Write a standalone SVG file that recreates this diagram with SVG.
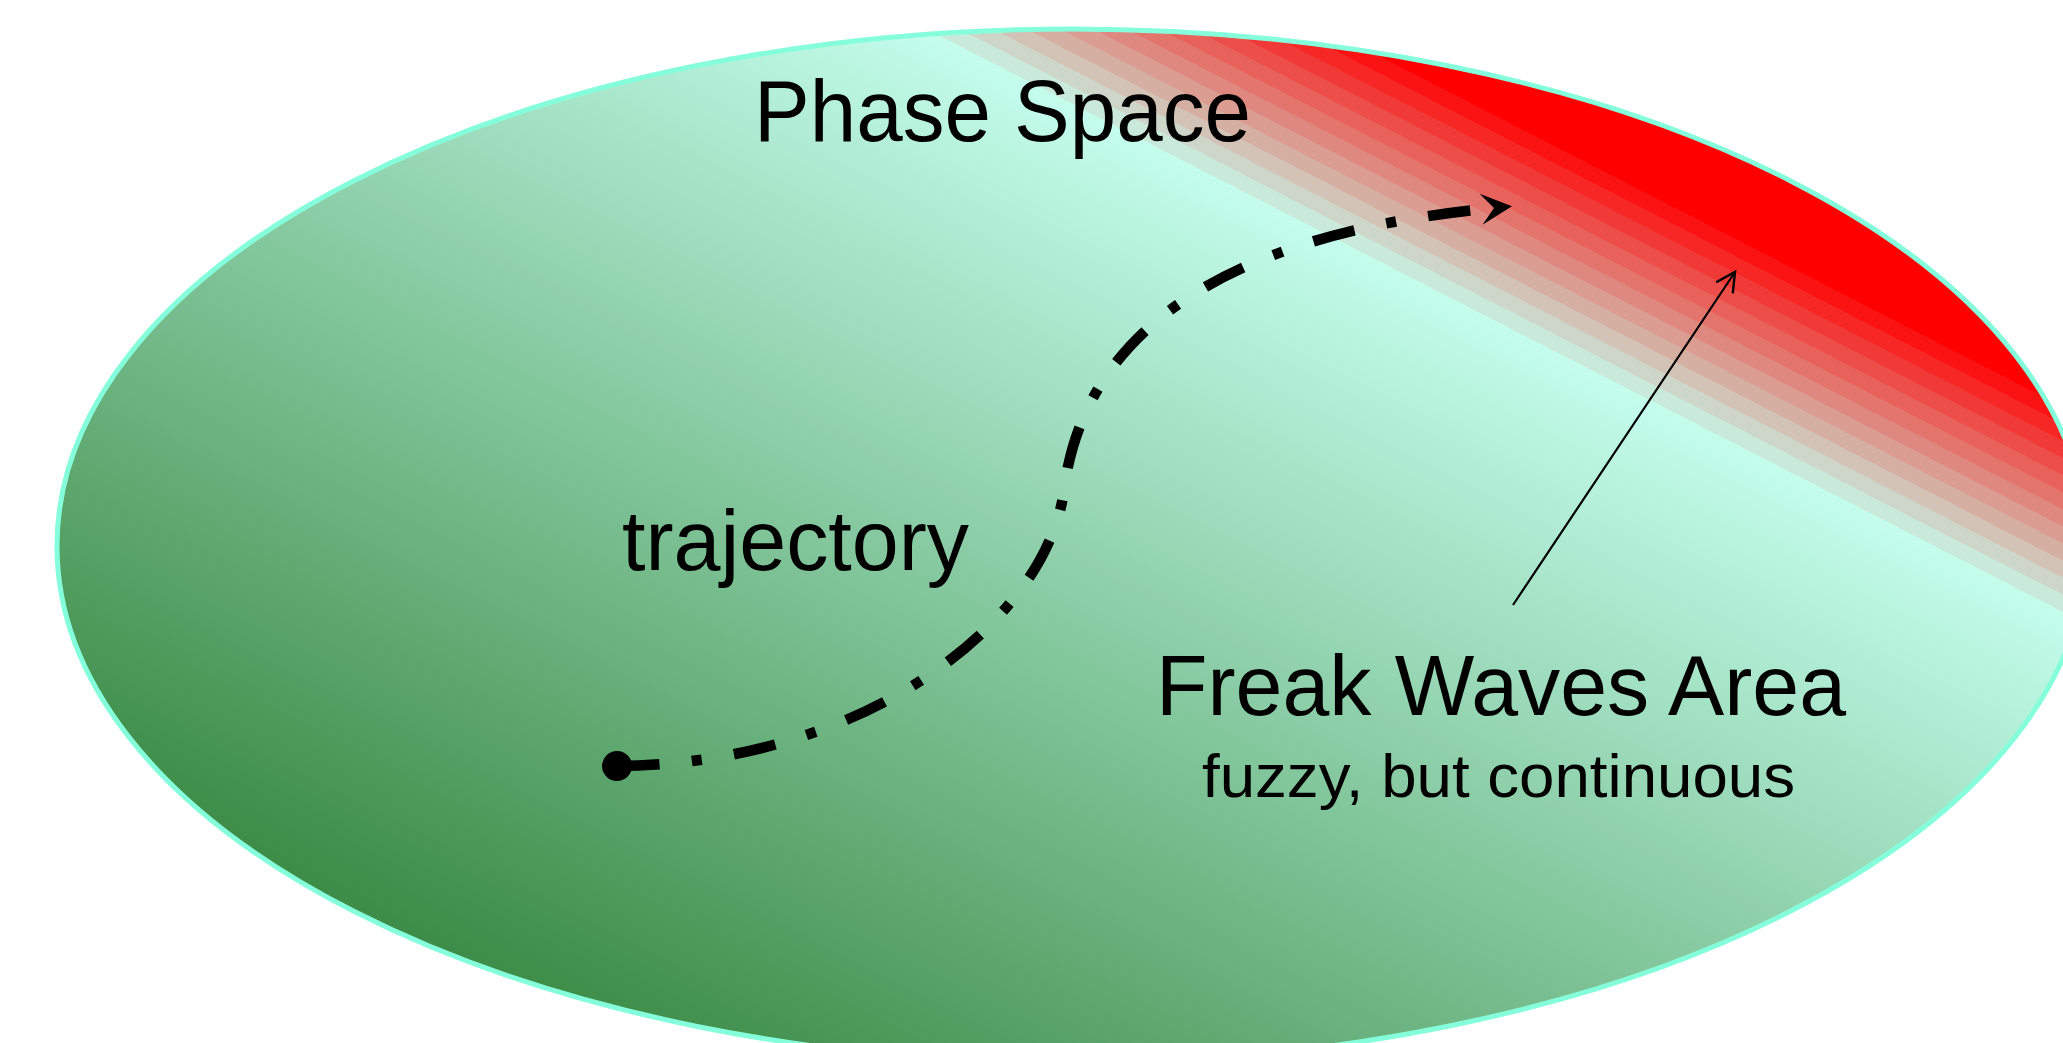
<svg xmlns="http://www.w3.org/2000/svg" width="2063" height="1043" viewBox="0 0 2063 1043">
  <style>
    .lbl { font-family: "Liberation Sans", Arial, sans-serif; fill: #000; }
    .traj { fill: none; stroke: #000; stroke-width: 10.5; stroke-dasharray: 42.5 32.5 10 32.5; stroke-linecap: butt; }
    .pointer { fill: none; stroke: #000; stroke-width: 2.2; }
  </style>
  <defs>
    <linearGradient id="phaseFill" gradientUnits="userSpaceOnUse" x1="-292.1" y1="569.5" x2="273.8" y2="-533.9">
      <stop offset="0" stop-color="#3d8c47"/>
      <stop offset="0.83629" stop-color="#c4fdec"/>
      <stop offset="0.83629" stop-color="#c9eada"/>
      <stop offset="0.84855" stop-color="#c9eada"/>
      <stop offset="0.84855" stop-color="#cdd6c8"/>
      <stop offset="0.86081" stop-color="#cdd6c8"/>
      <stop offset="0.86081" stop-color="#d2c3b6"/>
      <stop offset="0.87306" stop-color="#d2c3b6"/>
      <stop offset="0.87306" stop-color="#d6afa3"/>
      <stop offset="0.88532" stop-color="#d6afa3"/>
      <stop offset="0.88532" stop-color="#db9c91"/>
      <stop offset="0.89758" stop-color="#db9c91"/>
      <stop offset="0.89758" stop-color="#df887f"/>
      <stop offset="0.90984" stop-color="#df887f"/>
      <stop offset="0.90984" stop-color="#e4756d"/>
      <stop offset="0.92210" stop-color="#e4756d"/>
      <stop offset="0.92210" stop-color="#e8615b"/>
      <stop offset="0.93435" stop-color="#e8615b"/>
      <stop offset="0.93435" stop-color="#ed4e49"/>
      <stop offset="0.94661" stop-color="#ed4e49"/>
      <stop offset="0.94661" stop-color="#f13a37"/>
      <stop offset="0.95887" stop-color="#f13a37"/>
      <stop offset="0.95887" stop-color="#f62724"/>
      <stop offset="0.97113" stop-color="#f62724"/>
      <stop offset="0.97113" stop-color="#fa1312"/>
      <stop offset="0.98339" stop-color="#fa1312"/>
      <stop offset="0.98339" stop-color="#ff0000"/>
      <stop offset="1" stop-color="#ff0000"/>
    </linearGradient>
    <marker id="dotStart" markerUnits="userSpaceOnUse" viewBox="-16 -16 32 32" markerWidth="32" markerHeight="32" refX="0" refY="0" orient="auto" overflow="visible">
      <circle cx="0" cy="0" r="15" fill="#000"/>
    </marker>
    <marker id="stealth" markerUnits="userSpaceOnUse" viewBox="-20 -20 40 40" markerWidth="40" markerHeight="40" refX="0" refY="0" orient="auto" overflow="visible">
      <path d="M18,0 L-13,-15.5 L0,0 L-13,15.5 Z" fill="#000"/>
    </marker>
    <marker id="openV" markerUnits="userSpaceOnUse" viewBox="-24 -14 28 28" markerWidth="28" markerHeight="28" refX="0" refY="0" orient="auto" overflow="visible">
      <path d="M-19,-10 L0,0 L-19,10" fill="none" stroke="#000" stroke-width="2.4"/>
    </marker>
  </defs>

  <g id="phase-space">
    <ellipse cx="1072" cy="546" rx="1015" ry="517" fill="url(#phaseFill)" stroke="#85ffdb" stroke-width="5"/>
  </g>

  <g id="connectors">
    <path id="trajectory-path" class="traj" marker-start="url(#dotStart)" marker-end="url(#stealth)"
          d="M617,766 C867,764 1047,620 1064,490 C1087,310 1262,230 1494,208"/>
    <line id="freak-pointer" class="pointer" x1="1513" y1="605" x2="1735" y2="272" marker-end="url(#openV)"/>
  </g>

  <g id="label-phase-space">
    <text class="lbl" x="754" y="141" font-size="87" textLength="497" lengthAdjust="spacingAndGlyphs">Phase Space</text>
  </g>
  <g id="label-trajectory">
    <text class="lbl" x="622" y="570" font-size="85" textLength="347" lengthAdjust="spacingAndGlyphs">trajectory</text>
  </g>
  <g id="label-freak-waves">
    <text class="lbl" x="1156" y="715" font-size="85" textLength="690" lengthAdjust="spacingAndGlyphs">Freak Waves Area</text>
    <text class="lbl" x="1202" y="797" font-size="62" textLength="593" lengthAdjust="spacingAndGlyphs">fuzzy, but continuous</text>
  </g>
</svg>
